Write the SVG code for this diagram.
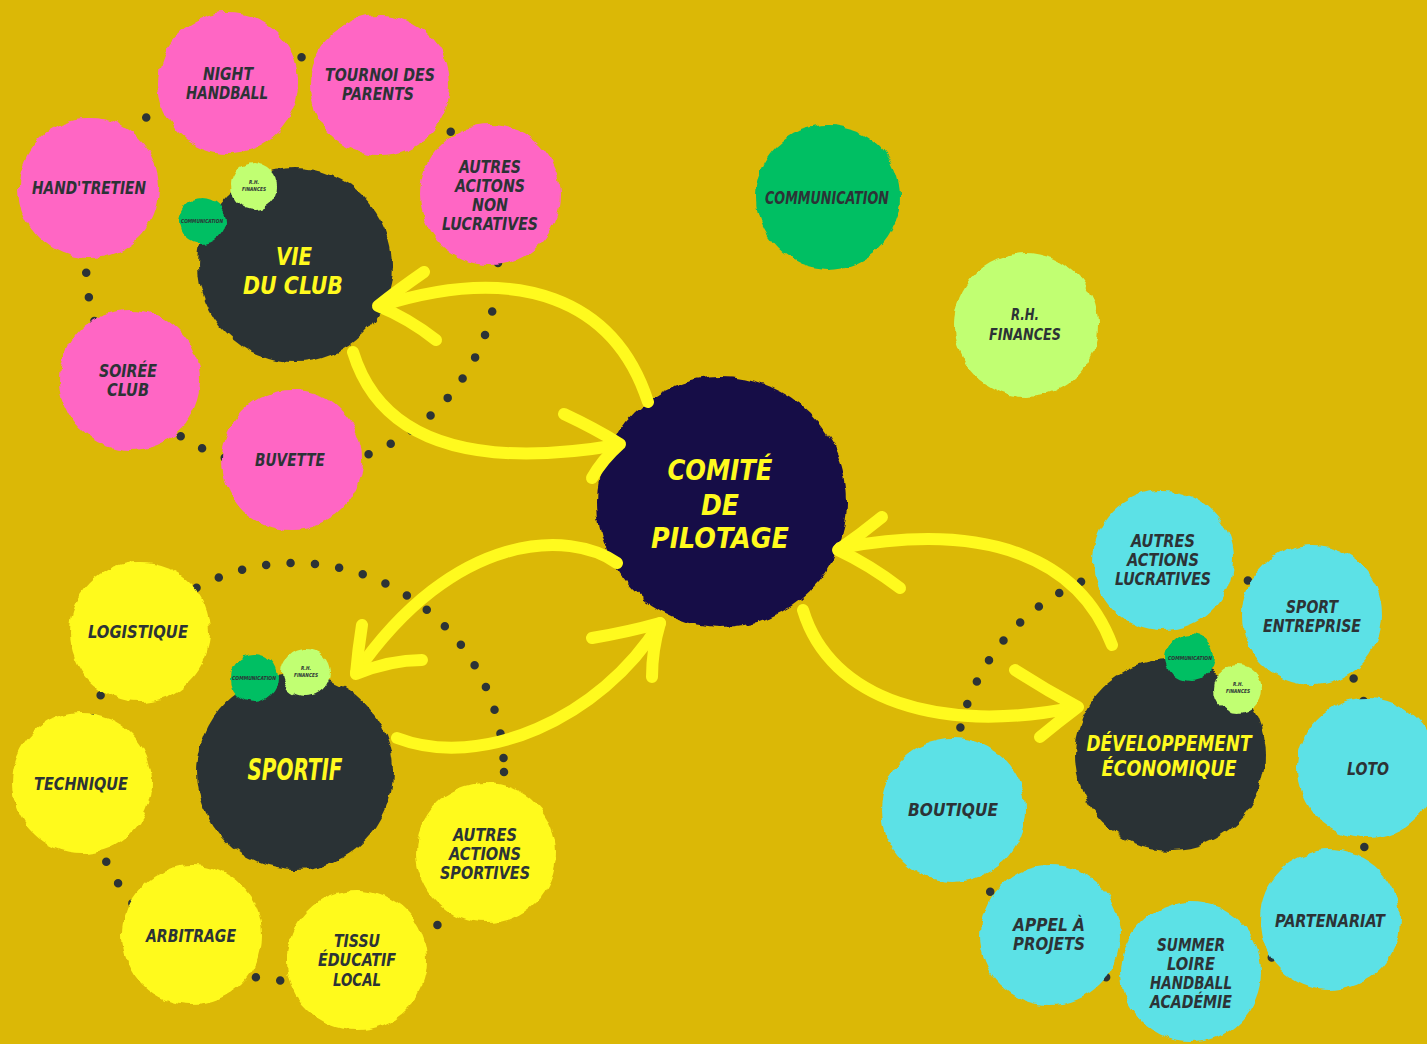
<svg xmlns="http://www.w3.org/2000/svg" width="1427" height="1044" viewBox="0 0 1427 1044">
<defs>
<filter id="rough" x="-15%" y="-15%" width="130%" height="130%">
<feTurbulence type="fractalNoise" baseFrequency="0.07" numOctaves="2" seed="4" result="n"/>
<feDisplacementMap in="SourceGraphic" in2="n" scale="8" xChannelSelector="R" yChannelSelector="G"/>
</filter>
<style>
.pink{fill:#FF66C4}
.cyan{fill:#5CE1E6}
.yel{fill:#FFFA1E}
.hub{fill:#2C3336}
.navy{fill:#170A47}
.grn{fill:#00BF63}
.lgr{fill:#C1FF72}
.c{filter:url(#rough)}
.t{font-family:'DejaVu Sans Condensed','DejaVu Sans',sans-serif;font-weight:bold;font-style:italic;fill:#2C3336;text-anchor:middle;font-size:18px}
.ty{fill:#FFFA1E}
.s6{font-size:5.5px}
.s16{font-size:16px}
.s17{font-size:17px}
.s23{font-size:21px}
.s27{font-size:25px}
.s29{font-size:30px}
.s32{font-size:29px}
.dots{fill:none;stroke:#2C3336;stroke-width:8.5;stroke-linecap:round;stroke-dasharray:0 24.5}
.arr{fill:none;stroke:#FFFA1E;stroke-width:12;stroke-linecap:round;stroke-linejoin:round}
</style>
</defs>
<rect width="1427" height="1044" fill="#DBB806"/>

<g id="connectors-dotted">
<circle class="dots" cx="292" cy="263" r="206"/>
<circle class="dots" cx="295" cy="772" r="209"/>
<circle class="dots" cx="1166" cy="775" r="211"/>
</g>

<g id="node-comite">
<circle class="c navy" cx="722" cy="502" r="125"/>
<text class="t ty s32" x="720" y="480" textLength="105" lengthAdjust="spacingAndGlyphs">COMITÉ</text>
<text class="t ty s32" x="720" y="515" textLength="38" lengthAdjust="spacingAndGlyphs">DE</text>
<text class="t ty s32" x="720" y="548" textLength="138" lengthAdjust="spacingAndGlyphs">PILOTAGE</text>
</g>

<g id="node-communication">
<circle class="c grn" cx="828" cy="197" r="72"/>
<text class="t s17" x="827" y="204" textLength="124" lengthAdjust="spacingAndGlyphs">COMMUNICATION</text>
</g>
<g id="node-rh-finances">
<circle class="c lgr" cx="1026" cy="325" r="72"/>
<text class="t s16" x="1025" y="320" textLength="28" lengthAdjust="spacingAndGlyphs">R.H.</text>
<text class="t s16" x="1025" y="340" textLength="72" lengthAdjust="spacingAndGlyphs">FINANCES</text>
</g>

<!-- VIE DU CLUB cluster -->
<g id="node-night-handball">
<circle class="c pink" cx="228" cy="83" r="70"/>
<text class="t" x="228" y="80" textLength="50" lengthAdjust="spacingAndGlyphs">NIGHT</text>
<text class="t" x="227" y="99" textLength="82" lengthAdjust="spacingAndGlyphs">HANDBALL</text>
</g>
<g id="node-tournoi">
<circle class="c pink" cx="380" cy="85" r="70"/>
<text class="t" x="380" y="81" textLength="110" lengthAdjust="spacingAndGlyphs">TOURNOI DES</text>
<text class="t" x="378" y="100" textLength="72" lengthAdjust="spacingAndGlyphs">PARENTS</text>
</g>
<g id="node-autres-non-lucratives">
<circle class="c pink" cx="490" cy="195" r="70"/>
<text class="t" x="490" y="173" textLength="62" lengthAdjust="spacingAndGlyphs">AUTRES</text>
<text class="t" x="490" y="192" textLength="70" lengthAdjust="spacingAndGlyphs">ACITONS</text>
<text class="t" x="490" y="211" textLength="36" lengthAdjust="spacingAndGlyphs">NON</text>
<text class="t" x="490" y="230" textLength="96" lengthAdjust="spacingAndGlyphs">LUCRATIVES</text>
</g>
<g id="node-handtretien">
<circle class="c pink" cx="89" cy="188" r="70"/>
<text class="t" x="89" y="194" textLength="114" lengthAdjust="spacingAndGlyphs">HAND'TRETIEN</text>
</g>
<g id="node-soiree-club">
<circle class="c pink" cx="130" cy="380" r="70"/>
<text class="t" x="128" y="377" textLength="58" lengthAdjust="spacingAndGlyphs">SOIRÉE</text>
<text class="t" x="128" y="396" textLength="42" lengthAdjust="spacingAndGlyphs">CLUB</text>
</g>
<g id="node-buvette">
<circle class="c pink" cx="292" cy="460" r="70"/>
<text class="t" x="290" y="466" textLength="70" lengthAdjust="spacingAndGlyphs">BUVETTE</text>
</g>
<g id="node-vie-du-club">
<circle class="c hub" cx="295" cy="265" r="97"/>
<text class="t ty s27" x="294" y="265" textLength="36" lengthAdjust="spacingAndGlyphs">VIE</text>
<text class="t ty s27" x="293" y="294" textLength="100" lengthAdjust="spacingAndGlyphs">DU CLUB</text>
</g>
<g id="node-vie-rh">
<circle class="c lgr" cx="254" cy="186" r="23"/>
<text class="t s6" x="254" y="184" textLength="10" lengthAdjust="spacingAndGlyphs">R.H.</text>
<text class="t s6" x="254" y="191" textLength="24" lengthAdjust="spacingAndGlyphs">FINANCES</text>
</g>
<g id="node-vie-comm">
<circle class="c grn" cx="202" cy="221" r="23"/>
<text class="t s6" x="202" y="223" textLength="42" lengthAdjust="spacingAndGlyphs">COMMUNICATION</text>
</g>

<!-- SPORTIF cluster -->
<g id="node-logistique">
<circle class="c yel" cx="140" cy="632" r="70"/>
<text class="t" x="138" y="638" textLength="100" lengthAdjust="spacingAndGlyphs">LOGISTIQUE</text>
</g>
<g id="node-technique">
<circle class="c yel" cx="82" cy="783" r="70"/>
<text class="t" x="81" y="790" textLength="94" lengthAdjust="spacingAndGlyphs">TECHNIQUE</text>
</g>
<g id="node-arbitrage">
<circle class="c yel" cx="192" cy="935" r="70"/>
<text class="t" x="191" y="942" textLength="90" lengthAdjust="spacingAndGlyphs">ARBITRAGE</text>
</g>
<g id="node-tissu">
<circle class="c yel" cx="357" cy="960" r="70"/>
<text class="t" x="357" y="947" textLength="46" lengthAdjust="spacingAndGlyphs">TISSU</text>
<text class="t" x="357" y="966" textLength="78" lengthAdjust="spacingAndGlyphs">ÉDUCATIF</text>
<text class="t" x="357" y="986" textLength="48" lengthAdjust="spacingAndGlyphs">LOCAL</text>
</g>
<g id="node-autres-sportives">
<circle class="c yel" cx="486" cy="853" r="70"/>
<text class="t" x="485" y="841" textLength="64" lengthAdjust="spacingAndGlyphs">AUTRES</text>
<text class="t" x="485" y="860" textLength="72" lengthAdjust="spacingAndGlyphs">ACTIONS</text>
<text class="t" x="485" y="879" textLength="90" lengthAdjust="spacingAndGlyphs">SPORTIVES</text>
</g>
<g id="node-sportif">
<circle class="c hub" cx="295" cy="772" r="98"/>
<text class="t ty s29" x="295" y="780" textLength="95" lengthAdjust="spacingAndGlyphs">SPORTIF</text>
</g>
<g id="node-sportif-comm">
<circle class="c grn" cx="254" cy="678" r="24"/>
<text class="t s6" x="254" y="680" textLength="44" lengthAdjust="spacingAndGlyphs">COMMUNICATION</text>
</g>
<g id="node-sportif-rh">
<circle class="c lgr" cx="306" cy="673" r="24"/>
<text class="t s6" x="306" y="670" textLength="10" lengthAdjust="spacingAndGlyphs">R.H.</text>
<text class="t s6" x="306" y="677" textLength="24" lengthAdjust="spacingAndGlyphs">FINANCES</text>
</g>

<!-- DEVELOPPEMENT cluster -->
<g id="node-autres-lucratives">
<circle class="c cyan" cx="1163" cy="560" r="70"/>
<text class="t" x="1163" y="547" textLength="64" lengthAdjust="spacingAndGlyphs">AUTRES</text>
<text class="t" x="1163" y="566" textLength="72" lengthAdjust="spacingAndGlyphs">ACTIONS</text>
<text class="t" x="1163" y="585" textLength="96" lengthAdjust="spacingAndGlyphs">LUCRATIVES</text>
</g>
<g id="node-sport-entreprise">
<circle class="c cyan" cx="1312" cy="615" r="70"/>
<text class="t" x="1312" y="613" textLength="52" lengthAdjust="spacingAndGlyphs">SPORT</text>
<text class="t" x="1312" y="632" textLength="98" lengthAdjust="spacingAndGlyphs">ENTREPRISE</text>
</g>
<g id="node-loto">
<circle class="c cyan" cx="1367" cy="768" r="70"/>
<text class="t" x="1368" y="775" textLength="42" lengthAdjust="spacingAndGlyphs">LOTO</text>
</g>
<g id="node-partenariat">
<circle class="c cyan" cx="1330" cy="920" r="70"/>
<text class="t" x="1330" y="927" textLength="110" lengthAdjust="spacingAndGlyphs">PARTENARIAT</text>
</g>
<g id="node-summer">
<circle class="c cyan" cx="1191" cy="972" r="70"/>
<text class="t" x="1191" y="951" textLength="68" lengthAdjust="spacingAndGlyphs">SUMMER</text>
<text class="t" x="1191" y="970" textLength="48" lengthAdjust="spacingAndGlyphs">LOIRE</text>
<text class="t" x="1191" y="989" textLength="82" lengthAdjust="spacingAndGlyphs">HANDBALL</text>
<text class="t" x="1191" y="1008" textLength="82" lengthAdjust="spacingAndGlyphs">ACADÉMIE</text>
</g>
<g id="node-appel">
<circle class="c cyan" cx="1050" cy="935" r="70"/>
<text class="t" x="1049" y="931" textLength="72" lengthAdjust="spacingAndGlyphs">APPEL À</text>
<text class="t" x="1049" y="950" textLength="72" lengthAdjust="spacingAndGlyphs">PROJETS</text>
</g>
<g id="node-boutique">
<circle class="c cyan" cx="953" cy="810" r="72"/>
<text class="t" x="953" y="816" textLength="90" lengthAdjust="spacingAndGlyphs">BOUTIQUE</text>
</g>
<g id="node-developpement">
<circle class="c hub" cx="1170" cy="755" r="95"/>
<text class="t ty s23" x="1169" y="751" textLength="165" lengthAdjust="spacingAndGlyphs">DÉVELOPPEMENT</text>
<text class="t ty s23" x="1169" y="776" textLength="135" lengthAdjust="spacingAndGlyphs">ÉCONOMIQUE</text>
</g>
<g id="node-dev-comm">
<circle class="c grn" cx="1190" cy="658" r="24"/>
<text class="t s6" x="1190" y="660" textLength="44" lengthAdjust="spacingAndGlyphs">COMMUNICATION</text>
</g>
<g id="node-dev-rh">
<circle class="c lgr" cx="1238" cy="689" r="24"/>
<text class="t s6" x="1238" y="686" textLength="10" lengthAdjust="spacingAndGlyphs">R.H.</text>
<text class="t s6" x="1238" y="693" textLength="24" lengthAdjust="spacingAndGlyphs">FINANCES</text>
</g>

<g id="connectors-arrows">
<path class="arr" d="M648,402 C615,300 520,262 380,306"/>
<path class="arr" d="M424,272 Q398,290 378,306 Q408,318 436,340"/>
<path class="arr" d="M353,352 C380,440 470,470 618,445"/>
<path class="arr" d="M564,414 Q594,428 620,444 Q602,460 592,478"/>
<path class="arr" d="M617,563 C570,530 455,530 356,673"/>
<path class="arr" d="M362,625 Q358,650 356,674 Q390,660 422,660"/>
<path class="arr" d="M397,738 C480,770 600,720 660,623"/>
<path class="arr" d="M592,638 Q628,632 660,623 Q652,650 652,677"/>
<path class="arr" d="M1112,645 C1080,560 990,520 840,548"/>
<path class="arr" d="M882,517 Q860,535 838,550 Q870,565 900,588"/>
<path class="arr" d="M803,610 C830,700 940,735 1077,707"/>
<path class="arr" d="M1015,670 Q1046,690 1078,707 Q1058,722 1040,737"/>
</g>
</svg>
